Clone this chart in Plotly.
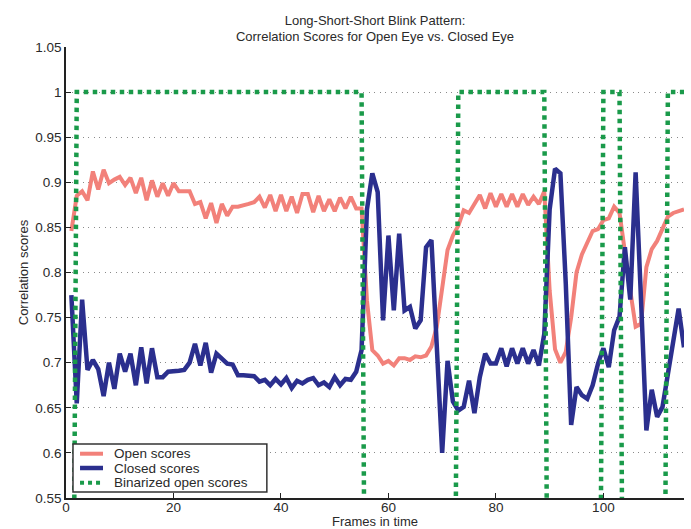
import plotly.graph_objects as go

frames = list(range(1, 116))

open_scores = [
    0.846, 0.885, 0.890, 0.880, 0.912, 0.892, 0.914, 0.899, 0.903, 0.906,
    0.897, 0.905, 0.888, 0.905, 0.880, 0.902, 0.884, 0.899, 0.885, 0.899,
    0.890, 0.890, 0.890, 0.876, 0.878, 0.860, 0.877, 0.855, 0.876, 0.863,
    0.873, 0.873, 0.874, 0.876, 0.878, 0.884, 0.872, 0.886, 0.868, 0.886,
    0.868, 0.884, 0.866, 0.887, 0.887, 0.867, 0.885, 0.868, 0.881, 0.868,
    0.883, 0.871, 0.884, 0.871, 0.871, 0.769, 0.714, 0.708, 0.699, 0.702,
    0.697, 0.705, 0.705, 0.703, 0.707, 0.706, 0.708, 0.718, 0.740, 0.780,
    0.825, 0.841, 0.852, 0.869, 0.866, 0.876, 0.886, 0.871, 0.888, 0.873,
    0.887, 0.873, 0.887, 0.873, 0.887, 0.875, 0.884, 0.876, 0.890, 0.780,
    0.715, 0.700, 0.712, 0.750, 0.800, 0.820, 0.834, 0.846, 0.848, 0.858,
    0.860, 0.873, 0.866, 0.820, 0.780, 0.740, 0.743, 0.806, 0.826, 0.835,
    0.849, 0.862, 0.866, 0.868, 0.870,
]

closed_scores = [
    0.775, 0.655, 0.770, 0.692, 0.703, 0.693, 0.663, 0.700, 0.671, 0.710,
    0.690, 0.710, 0.675, 0.717, 0.677, 0.716, 0.684, 0.684, 0.690, 0.690,
    0.691, 0.692, 0.700, 0.721, 0.697, 0.722, 0.689, 0.710, 0.705, 0.699,
    0.698, 0.686, 0.686, 0.685, 0.685, 0.679, 0.681, 0.675, 0.682, 0.676,
    0.683, 0.672, 0.680, 0.677, 0.681, 0.683, 0.675, 0.678, 0.673, 0.684,
    0.675, 0.682, 0.681, 0.690, 0.714, 0.870, 0.910, 0.889, 0.747, 0.841,
    0.758, 0.843, 0.758, 0.762, 0.738, 0.747, 0.828, 0.836, 0.729, 0.600,
    0.702, 0.657, 0.647, 0.651, 0.680, 0.644, 0.684, 0.710, 0.699, 0.699,
    0.716, 0.696, 0.716, 0.699, 0.716, 0.699, 0.714, 0.697, 0.732, 0.870,
    0.915, 0.910, 0.788, 0.631, 0.673, 0.664, 0.660, 0.675, 0.699, 0.716,
    0.695, 0.736, 0.751, 0.828, 0.770, 0.911, 0.770, 0.625, 0.670, 0.640,
    0.651, 0.688, 0.725, 0.760, 0.717,
]

binarized_open = [
    0, 1, 1, 1, 1, 1, 1, 1, 1, 1,
    1, 1, 1, 1, 1, 1, 1, 1, 1, 1,
    1, 1, 1, 1, 1, 1, 1, 1, 1, 1,
    1, 1, 1, 1, 1, 1, 1, 1, 1, 1,
    1, 1, 1, 1, 1, 1, 1, 1, 1, 1,
    1, 1, 1, 1, 1, 0, 0, 0, 0, 0,
    0, 0, 0, 0, 0, 0, 0, 0, 0, 0,
    0, 0, 1, 1, 1, 1, 1, 1, 1, 1,
    1, 1, 1, 1, 1, 1, 1, 1, 1, 0,
    0, 0, 0, 0, 0, 0, 0, 0, 0, 1,
    1, 1, 1, 0, 0, 0, 0, 0, 0, 0,
    0, 1, 1, 1, 1,
]

series_names = ["Open scores", "Closed scores", "Binarized open scores"]
y_ticks = [0.55, 0.6, 0.65, 0.7, 0.75, 0.8, 0.85, 0.9, 0.95, 1.0, 1.05]
y_tick_labels = ["0.55", "0.6", "0.65", "0.7", "0.75", "0.8", "0.85", "0.9", "0.95", "1", "1.05"]
x_ticks = [0, 20, 40, 60, 80, 100]
x_tick_labels = ["0", "20", "40", "60", "80", "100"]

RED = "#F2817A"
BLUE = "#2B2F8E"
GREEN = "#1A9A4A"
TXT = "#2a2a2a"
FONT = "Liberation Sans, Arial, Helvetica, sans-serif"

fig = go.Figure()
fig.add_trace(go.Scatter(x=frames, y=open_scores, mode="lines", name=series_names[0],
                         line=dict(color=RED, width=4), showlegend=False))
fig.add_trace(go.Scatter(x=frames, y=closed_scores, mode="lines", name=series_names[1],
                         line=dict(color=BLUE, width=4.5), showlegend=False))
fig.add_trace(go.Scatter(x=frames, y=binarized_open, mode="lines", name=series_names[2],
                         line=dict(color=GREEN, width=4.5, dash="4.5px,4.5px"), showlegend=False))

# legend drawn as a box inside the plot (paper coordinates)
lx0, lx1, ly0, ly1 = 0.0113, 0.325, 0.0133, 0.1197
shapes = [dict(type="rect", xref="paper", yref="paper", x0=lx0, x1=lx1, y0=ly0, y1=ly1,
               line=dict(color="#333333", width=1.5), fillcolor="white", layer="above")]
rows = [0.0982, 0.0665, 0.0339]
styles = [dict(color=RED, width=4), dict(color=BLUE, width=4.5),
          dict(color=GREEN, width=4, dash="4px,4px")]
annotations = []
for name, yy, st in zip(series_names, rows, styles):
    shapes.append(dict(type="line", xref="paper", yref="paper", x0=0.0227, x1=0.0599,
                       y0=yy, y1=yy, line=st, layer="above"))
    annotations.append(dict(text=name, xref="paper", yref="paper", x=0.0744, y=yy,
                            xanchor="left", yanchor="middle", showarrow=False,
                            font=dict(family=FONT, size=13.5, color=TXT)))

fig.update_layout(
    width=691, height=529,
    margin=dict(l=66, r=7, t=47, b=31),
    paper_bgcolor="white", plot_bgcolor="white",
    font=dict(family=FONT, size=13, color=TXT),
    title=dict(text="Long-Short-Short Blink Pattern:<br>Correlation Scores for Open Eye vs. Closed Eye",
               x=0.5, xref="paper", xanchor="center", y=1 - 24.5 / 529, yref="container",
               yanchor="middle", font=dict(family=FONT, size=13, color=TXT)),
    shapes=shapes,
    annotations=annotations,
    showlegend=False,
)
fig.update_xaxes(range=[0, 115], tickvals=x_ticks, ticktext=x_tick_labels, automargin=False,
                 showgrid=False, zeroline=False, showline=True, linecolor="#222222", linewidth=1.5,
                 ticks="inside", ticklen=5, tickwidth=1, tickcolor="#222222",
                 tickfont=dict(family=FONT, size=13.5, color=TXT), ticklabelstandoff=-4,
                 title=dict(text="Frames in time", standoff=3, font=dict(family=FONT, size=13, color=TXT)))
fig.update_yaxes(range=[0.55, 1.05], tickvals=y_ticks, ticktext=y_tick_labels, automargin=False,
                 showgrid=True, gridcolor="#8a8a8a", gridwidth=1, griddash="1px,4.5px",
                 zeroline=False, showline=True, linecolor="#222222", linewidth=1.5,
                 ticks="inside", ticklen=5, tickwidth=1, tickcolor="#222222",
                 tickfont=dict(family=FONT, size=13.5, color=TXT),
                 title=dict(text="Correlation scores", standoff=4, font=dict(family=FONT, size=13, color=TXT)))

fig.write_html("out.html", config={"displayModeBar": False},
               post_script="document.body.style.margin='0px';")
